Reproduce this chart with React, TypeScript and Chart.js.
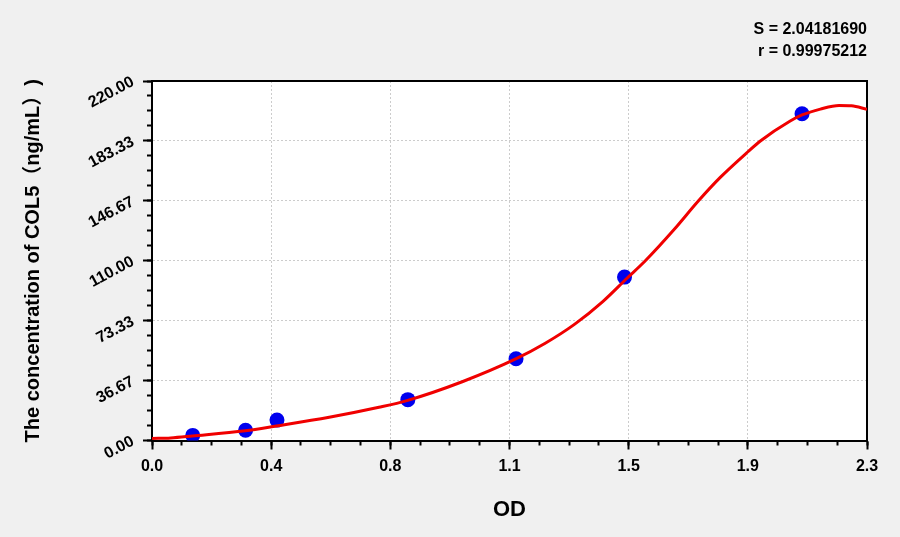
import React, { useEffect, useRef } from "react";
import { Chart, registerables } from "chart.js";

Chart.register(...registerables);

const xMax = 2.3;
const yMax = 220;
const xTickLabels = ["0.0", "0.4", "0.8", "1.1", "1.5", "1.9", "2.3"];
const yTickLabels = ["0.00", "36.67", "73.33", "110.00", "146.67", "183.33", "220.00"];
const minorPerMajor = 4;

const pointOD = [0.131, 0.301, 0.402, 0.823, 1.171, 1.52, 2.091];
const pointConc = [3.12, 6.25, 12.5, 25, 50, 100, 200];

const curveOD = [0, 0.06, 0.13, 0.3, 0.4, 0.57, 0.73, 0.82, 1.0, 1.17, 1.265, 1.36, 1.45, 1.528, 1.587, 1.678, 1.758, 1.828, 1.917, 1.957, 2.053, 2.091, 2.15, 2.21, 2.25, 2.3];
const curveConc = [1.2, 1.6, 2.8, 6.0, 8.9, 14.2, 20.3, 24.4, 36.1, 49.9, 59.5, 71.2, 85, 99.3, 110, 128.8, 146.7, 161, 176.7, 183.3, 195.5, 199.2, 202.8, 205, 204.8, 202.7];

const statLines = ["S = 2.04181690", "r = 0.99975212"];
const xTitle = "OD";
const yTitle = "The concentration of COL5（ng/mL）)";

const FONT = '"Liberation Sans", Arial, "Noto Sans CJK SC", sans-serif';

const majorTicks = (max: number, n: number) =>
  Array.from({ length: n }, (_, i) => ({ value: (i * max) / (n - 1) }));

const bgPlugin = {
  id: "bg",
  beforeDraw(chart: any) {
    const { ctx, chartArea } = chart;
    ctx.save();
    ctx.fillStyle = "#f0f0f0";
    ctx.fillRect(0, 0, chart.width, chart.height);
    ctx.fillStyle = "#ffffff";
    ctx.fillRect(chartArea.left, chartArea.top, chartArea.right - chartArea.left, chartArea.bottom - chartArea.top);
    ctx.restore();
  },
};

export default function App() {
  const ref = useRef<HTMLCanvasElement | null>(null);

  useEffect(() => {
    document.body.style.margin = "0";
    const canvas = ref.current;
    if (!canvas) return;
    const nX = xTickLabels.length;
    const nY = yTickLabels.length;
    const chart = new Chart(canvas, {
      type: "scatter",
      data: {
        datasets: [
          {
            label: "fit",
            data: curveOD.map((x, i) => ({ x, y: curveConc[i] })),
            showLine: true,
            borderColor: "#f00000",
            borderWidth: 3,
            pointRadius: 0,
            cubicInterpolationMode: "monotone",
            xAxisID: "x",
            yAxisID: "y",
          },
          {
            label: "std",
            data: pointOD.map((x, i) => ({ x, y: pointConc[i] })),
            showLine: false,
            backgroundColor: "#0000ee",
            borderWidth: 0,
            pointRadius: 7.5,
            xAxisID: "x",
            yAxisID: "y",
          },
        ],
      },
      options: {
        responsive: false,
        animation: false,
        events: [],
        layout: { padding: { left: 0, top: 0, right: 33, bottom: 0 } },
        plugins: {
          legend: { display: false },
          tooltip: { enabled: false },
          title: {
            display: true,
            text: statLines,
            align: "end",
            position: "top",
            color: "#000",
            font: { family: FONT, size: 16, weight: "bold", lineHeight: 1.375 },
            padding: { top: 18.5, bottom: 18.5 },
          },
        },
        scales: {
          x: {
            type: "linear",
            position: "bottom",
            weight: 1,
            min: 0,
            max: xMax,
            afterBuildTicks: (s: any) => {
              s.ticks = majorTicks(xMax, nX);
            },
            afterFit: (s: any) => {
              s.height = 96.5;
            },
            ticks: {
              autoSkip: false,
              maxRotation: 0,
              minRotation: 0,
              padding: 7,
              color: "#000",
              font: { family: FONT, size: 16, weight: "bold" },
              callback: (_v: any, i: number) => xTickLabels[i],
            },
            grid: {
              color: "#cccccc",
              lineWidth: 1,
              tickColor: "#000",
              tickLength: 9,
              tickWidth: 2,
              tickBorderDash: [],
            },
            border: { display: true, color: "#000", width: 2, dash: [2, 2] },
            title: {
              display: true,
              text: xTitle,
              color: "#000",
              font: { family: FONT, size: 22, weight: "bold" },
              padding: { top: 0, bottom: 14 },
            },
          },
          xMinor: {
            type: "linear",
            position: "bottom",
            weight: 0,
            min: 0,
            max: xMax,
            afterBuildTicks: (s: any) => {
              s.ticks = majorTicks(xMax, (nX - 1) * minorPerMajor + 1);
            },
            afterFit: (s: any) => {
              s.height = 0;
            },
            ticks: { display: false },
            grid: { drawOnChartArea: false, drawTicks: true, tickLength: 5, tickColor: "#000", tickWidth: 2 },
            border: { display: false },
          },
          xTop: {
            type: "linear",
            position: "top",
            weight: 0,
            min: 0,
            max: xMax,
            afterFit: (s: any) => {
              s.height = 0;
            },
            ticks: { display: false },
            grid: { display: false },
            border: { display: true, color: "#000", width: 2 },
          },
          y: {
            type: "linear",
            position: "left",
            weight: 1,
            min: 0,
            max: yMax,
            afterBuildTicks: (s: any) => {
              s.ticks = majorTicks(yMax, nY);
            },
            afterFit: (s: any) => {
              s.width = 152;
            },
            ticks: {
              autoSkip: false,
              minRotation: 28,
              maxRotation: 28,
              padding: 10,
              color: "#000",
              font: { family: FONT, size: 16, weight: "bold" },
              callback: (_v: any, i: number) => yTickLabels[i],
            },
            grid: {
              color: "#cccccc",
              lineWidth: 1,
              tickColor: "#000",
              tickLength: 9,
              tickWidth: 2,
              tickBorderDash: [],
            },
            border: { display: true, color: "#000", width: 2, dash: [2, 2] },
            title: {
              display: true,
              text: yTitle,
              color: "#000",
              font: { family: FONT, size: 20, weight: "bold" },
              padding: { top: 21, bottom: 0 },
            },
          },
          yMinor: {
            type: "linear",
            position: "left",
            weight: 0,
            min: 0,
            max: yMax,
            afterBuildTicks: (s: any) => {
              s.ticks = majorTicks(yMax, (nY - 1) * minorPerMajor + 1);
            },
            afterFit: (s: any) => {
              s.width = 0;
            },
            ticks: { display: false },
            grid: { drawOnChartArea: false, drawTicks: true, tickLength: 5, tickColor: "#000", tickWidth: 2 },
            border: { display: false },
          },
          yRight: {
            type: "linear",
            position: "right",
            weight: 0,
            min: 0,
            max: yMax,
            afterFit: (s: any) => {
              s.width = 0;
            },
            ticks: { display: false },
            grid: { display: false },
            border: { display: true, color: "#000", width: 2 },
          },
        },
      } as any,
      plugins: [bgPlugin],
    });
    return () => chart.destroy();
  }, []);

  return (
    <div style={{ position: "absolute", left: 0, top: 0, width: 900, height: 537, background: "#f0f0f0" }}>
      <canvas ref={ref} width={900} height={537} style={{ display: "block", width: 900, height: 537 }} />
    </div>
  );
}
